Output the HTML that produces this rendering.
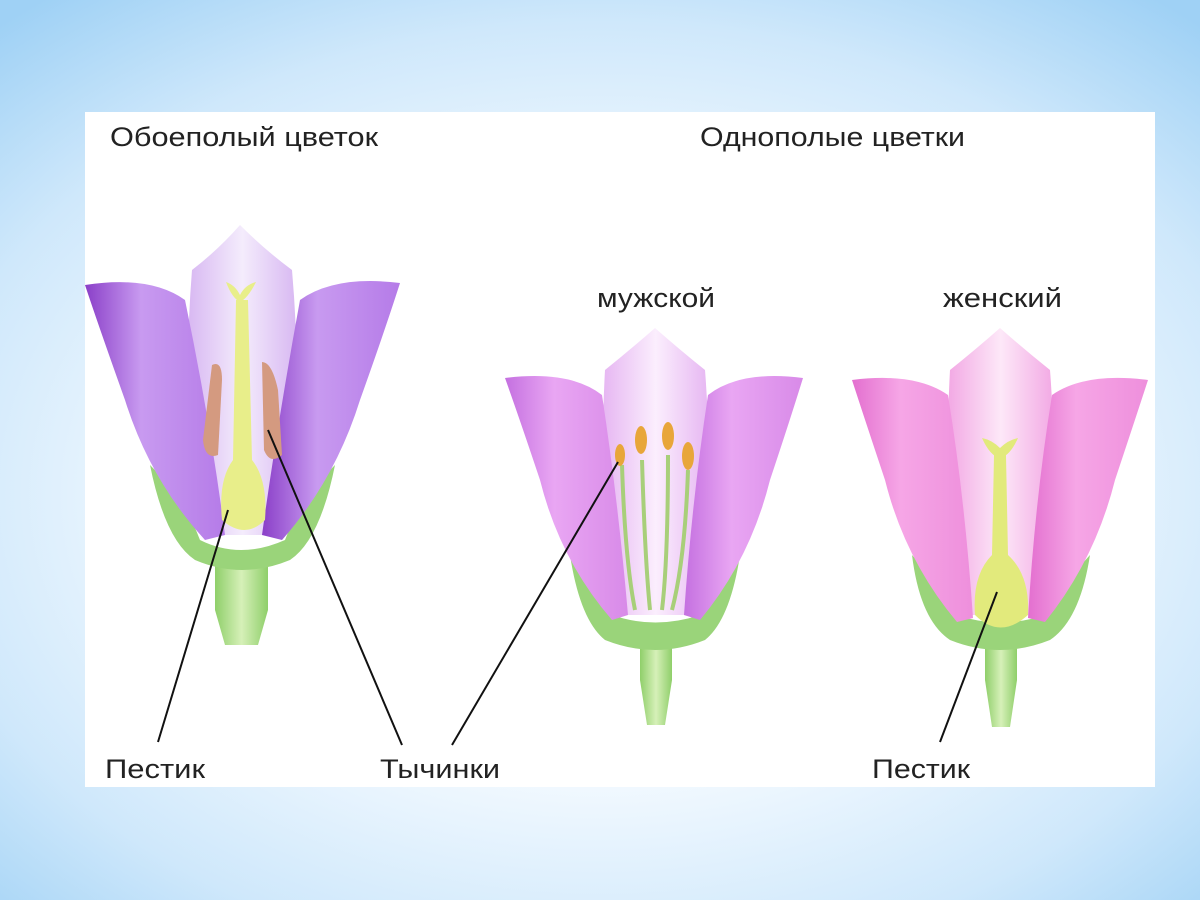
<!DOCTYPE html>
<html><head><meta charset="utf-8"><style>
html,body{margin:0;padding:0;width:1200px;height:900px;overflow:hidden}
body{background:radial-gradient(ellipse 75% 70% at 50% 55%,#ffffff 0%,#f2f9ff 45%,#cfe8fb 75%,#9fd1f5 100%)}
svg{position:absolute;left:0;top:0}
text{font-family:"Liberation Sans",sans-serif;fill:#222}
</style></head><body>
<svg width="1200" height="900" viewBox="0 0 1200 900">
<defs>
<linearGradient id="pv" x1="0" x2="1"><stop offset="0" stop-color="#8a3fc8"/><stop offset=".4" stop-color="#c89af0"/><stop offset="1" stop-color="#b57be8"/></linearGradient>
<linearGradient id="pc" x1="0" x2="1"><stop offset="0" stop-color="#d8b8f2"/><stop offset=".5" stop-color="#f4ecfc"/><stop offset="1" stop-color="#d8b8f2"/></linearGradient>
<linearGradient id="mp" x1="0" x2="1"><stop offset="0" stop-color="#c470e0"/><stop offset=".4" stop-color="#e9a6f3"/><stop offset="1" stop-color="#d88ae8"/></linearGradient>
<linearGradient id="mc" x1="0" x2="1"><stop offset="0" stop-color="#e6b6f2"/><stop offset=".5" stop-color="#fbeefd"/><stop offset="1" stop-color="#e6b6f2"/></linearGradient>
<linearGradient id="fp" x1="0" x2="1"><stop offset="0" stop-color="#e36fcf"/><stop offset=".4" stop-color="#f6a6e6"/><stop offset="1" stop-color="#ee8fdc"/></linearGradient>
<linearGradient id="fc" x1="0" x2="1"><stop offset="0" stop-color="#f2a8e4"/><stop offset=".5" stop-color="#fde8f8"/><stop offset="1" stop-color="#f2a8e4"/></linearGradient>
<linearGradient id="g" x1="0" x2="1"><stop offset="0" stop-color="#8fcf6a"/><stop offset=".5" stop-color="#d6f0b8"/><stop offset="1" stop-color="#8fcf6a"/></linearGradient>
</defs>
<rect x="85" y="112" width="1070" height="675" fill="#fff"/>

<!-- Flower 1 -->
<g>
<path d="M215,610 L225,645 L258,645 L268,610 L268,560 L215,560Z" fill="url(#g)"/>
<path d="M150,465 Q185,500 200,540 Q240,560 285,540 Q300,500 335,465 Q320,540 290,560 Q242,580 195,560 Q165,540 150,465Z" fill="#9ad47a"/>
<path d="M240,225 Q265,250 292,270 Q305,420 282,535 L205,535 Q180,420 192,270 Q218,250 240,225Z" fill="url(#pc)"/>
<path d="M85,285 Q150,275 185,300 Q210,420 225,535 L205,540 Q150,480 125,400 Q100,330 85,285Z" fill="url(#pv)"/>
<path d="M400,283 Q335,275 300,300 Q278,420 262,535 L282,540 Q335,480 360,400 Q385,330 400,283Z" fill="url(#pv)"/>
<path d="M236,300 L248,300 L252,460 Q268,480 265,520 Q245,540 222,520 Q218,480 233,460Z" fill="#e8ee8a"/>
<path d="M226,282 Q235,285 240,295 Q245,285 256,282 Q248,298 240,302 Q232,298 226,282Z" fill="#e8ee8a"/>
<path d="M212,365 Q222,360 222,380 L218,455 Q205,460 203,440Z" fill="#d49a80"/>
<path d="M262,362 Q272,362 278,390 L282,455 Q270,465 264,450Z" fill="#d49a80"/>
</g>

<!-- Flower 2 -->
<g>
<path d="M640,680 L647,725 L665,725 L672,680 L672,640 L640,640Z" fill="url(#g)"/>
<path d="M570,555 Q600,590 612,615 Q655,630 700,615 Q715,590 740,555 Q730,620 705,640 Q655,660 605,640 Q580,620 570,555Z" fill="#9ad47a"/>
<path d="M655,328 Q680,350 705,370 Q715,500 700,615 L612,615 Q598,500 605,370 Q630,350 655,328Z" fill="url(#mc)"/>
<path d="M505,378 Q570,370 602,395 Q618,500 628,615 L612,620 Q560,560 540,480 Q520,420 505,378Z" fill="url(#mp)"/>
<path d="M803,378 Q740,370 708,395 Q692,500 684,615 L700,620 Q750,560 770,480 Q790,420 803,378Z" fill="url(#mp)"/>
<g stroke="#a8cf7a" stroke-width="4" fill="none">
<path d="M622,465 Q625,560 635,610"/><path d="M642,460 Q645,560 650,610"/><path d="M668,455 Q668,560 662,610"/><path d="M688,470 Q685,560 672,610"/>
</g>
<g fill="#e8a63a"><ellipse cx="620" cy="455" rx="5" ry="11"/><ellipse cx="641" cy="440" rx="6" ry="14"/><ellipse cx="668" cy="436" rx="6" ry="14"/><ellipse cx="688" cy="456" rx="6" ry="14"/></g>
</g>

<!-- Flower 3 -->
<g>
<path d="M985,680 L992,727 L1010,727 L1017,680 L1017,640 L985,640Z" fill="url(#g)"/>
<path d="M912,555 Q945,590 957,615 Q1000,630 1045,615 Q1058,590 1090,555 Q1080,620 1050,640 Q1000,660 950,640 Q920,620 912,555Z" fill="#9ad47a"/>
<path d="M1000,328 Q1025,350 1050,370 Q1060,500 1045,615 L957,615 Q943,500 950,370 Q975,350 1000,328Z" fill="url(#fc)"/>
<path d="M852,380 Q915,372 948,395 Q965,500 973,618 L957,622 Q905,560 885,480 Q865,420 852,380Z" fill="url(#fp)"/>
<path d="M1148,380 Q1085,372 1052,395 Q1035,500 1028,618 L1045,622 Q1095,560 1115,480 Q1135,420 1148,380Z" fill="url(#fp)"/>
<path d="M994,455 L1006,455 L1008,555 Q1030,575 1028,615 Q1000,640 975,615 Q972,575 992,555Z" fill="#e2ea7c"/>
<path d="M982,438 Q992,440 1000,448 Q1008,440 1018,438 Q1010,456 1000,458 Q990,456 982,438Z" fill="#e2ea7c"/>
</g>

<!-- leader lines -->
<g stroke="#111" stroke-width="2">
<line x1="228" y1="510" x2="158" y2="742"/>
<line x1="268" y1="430" x2="402" y2="745"/>
<line x1="618" y1="462" x2="452" y2="745"/>
<line x1="997" y1="592" x2="940" y2="742"/>
</g>

<g font-size="27">
<text x="110" y="146" textLength="268" lengthAdjust="spacingAndGlyphs">Обоеполый цветок</text>
<text x="700" y="146" textLength="265" lengthAdjust="spacingAndGlyphs">Однополые цветки</text>
<text x="597" y="307" textLength="118" lengthAdjust="spacingAndGlyphs">мужской</text>
<text x="943" y="307" textLength="119" lengthAdjust="spacingAndGlyphs">женский</text>
<text x="105" y="778" textLength="100" lengthAdjust="spacingAndGlyphs">Пестик</text>
<text x="380" y="778" textLength="120" lengthAdjust="spacingAndGlyphs">Тычинки</text>
<text x="872" y="778" textLength="98" lengthAdjust="spacingAndGlyphs">Пестик</text>
</g>
</svg>
</body></html>
